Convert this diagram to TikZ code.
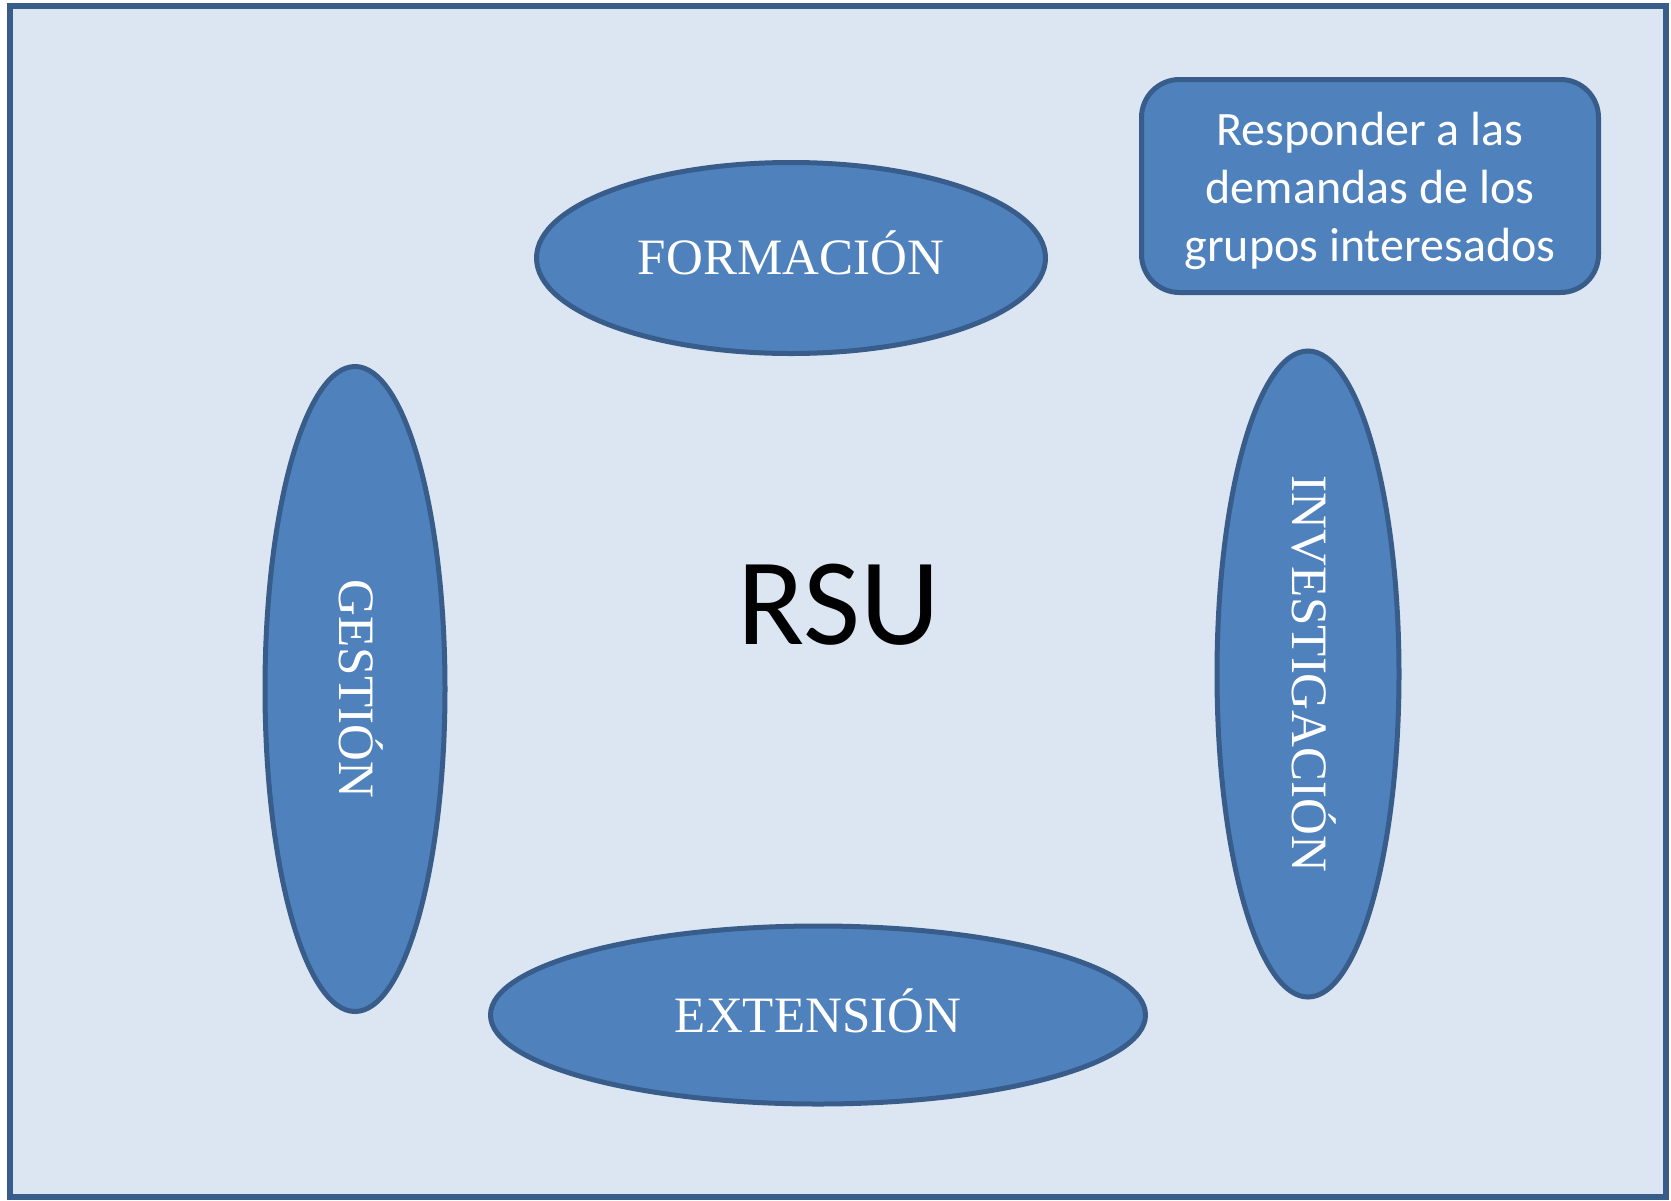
\documentclass[tikz,border=0pt]{standalone}
\usepackage{fontspec}
\setmainfont{Liberation Serif}
\newfontfamily\calibri{Carlito}
\usetikzlibrary{shapes.geometric}
\definecolor{bgfill}{HTML}{DCE6F2}
\definecolor{darkline}{HTML}{385D8A}
\definecolor{shapefill}{HTML}{4F81BD}
\tikzset{
  oval/.style={ellipse, fill=shapefill, draw=darkline, line width=5pt, inner sep=0pt},
  ovaltext/.style={text=white, inner sep=0pt, font=\fontsize{51}{60}\selectfont},
  notebox/.style={rectangle, rounded corners=38pt, fill=shapefill, draw=darkline, line width=5pt, inner sep=0pt},
}
\begin{document}
\begin{tikzpicture}[x=1pt,y=-1pt]
\useasboundingbox (0,0) rectangle (1671,1200);
\fill[white] (0,0) rectangle (1671,1200);
\draw[fill=bgfill, draw=darkline, line width=6.5pt] (10,6) rectangle (1666,1197);
\node[oval, minimum width=509pt, minimum height=191pt] (form) at (791,258) {};
\node[ovaltext] (formt) at ([yshift=5pt]form.center) {FORMACIÓN};
\node[oval, minimum width=655pt, minimum height=178pt] (ext) at (818,1015) {};
\node[ovaltext] (extt) at ([yshift=4pt]ext.center) {EXTENSIÓN};
\node[oval, minimum width=180pt, minimum height=645pt] (gest) at (355,689) {};
\node[ovaltext, rotate=-90] (gestt) at ([xshift=6pt]gest.center) {GESTIÓN};
\node[oval, minimum width=182pt, minimum height=646pt] (inv) at (1308,674) {};
\node[ovaltext, rotate=-90] (invt) at ([xshift=6pt]inv.center) {INVESTIGACIÓN};
\node[notebox, minimum width=457pt, minimum height=213pt] (note) at (1370,186) {};
\node[text=white, align=center, inner sep=0pt, font=\calibri\fontsize{48}{58}\selectfont] (notet) at ([yshift=-5pt]note.center) {Responder a las\\demandas de los\\grupos interesados};
\node[font=\calibri\fontsize{124}{130}\selectfont, text=black] (rsu) at (839,605) {RSU};
\end{tikzpicture}
\end{document}
